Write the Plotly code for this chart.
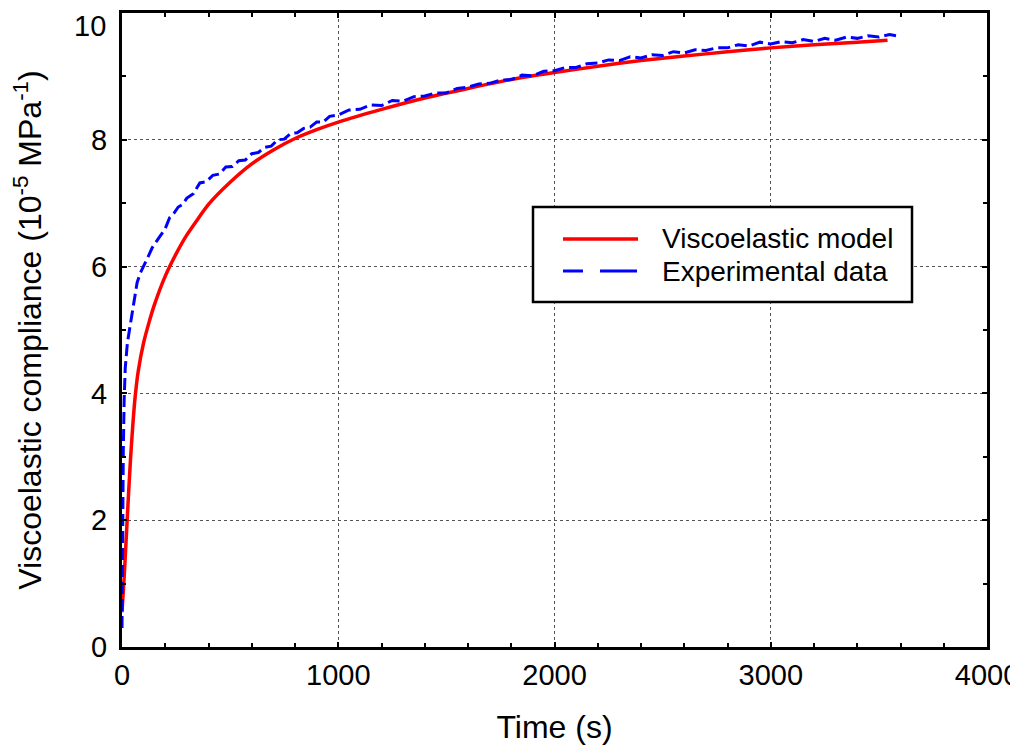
import plotly.graph_objects as go

# Viscoelastic model (red solid line)
model_t = [0, 10, 20, 30, 40, 50, 60, 75, 100, 125, 150, 200, 250, 300, 400, 500, 600, 700, 800,
           900, 1000, 1200, 1400, 1600, 1800, 2000, 2200, 2400, 2600, 2800, 3000, 3200, 3400, 3540]
model_j = [0.55, 1.1, 1.75, 2.4, 3.0, 3.5, 3.92, 4.35, 4.8, 5.12, 5.4, 5.85, 6.2, 6.5, 6.98, 7.33, 7.62, 7.84, 8.02,
           8.16, 8.28, 8.48, 8.66, 8.81, 8.95, 9.06, 9.16, 9.25, 9.32, 9.39, 9.45, 9.5, 9.54, 9.57]

# Experimental data (blue dashed line)
exp_t = [0, 3, 6, 10, 15, 25, 40, 55, 70, 85, 100, 120, 140, 160, 180, 200, 220, 240, 260, 280,
         300, 330, 360, 390, 420, 450, 480, 510, 540, 570, 600, 630, 660, 690, 720, 750, 780, 810,
         840, 870, 900, 930, 960, 1000, 1050, 1100, 1150, 1200, 1250, 1300, 1350, 1400, 1450, 1500,
         1550, 1600, 1650, 1700, 1750, 1800, 1850, 1900, 1950, 2000, 2050, 2100, 2150, 2200, 2250,
         2300, 2350, 2400, 2450, 2500, 2550, 2600, 2650, 2700, 2750, 2800, 2850, 2900, 2950, 3000,
         3050, 3100, 3150, 3200, 3250, 3300, 3350, 3400, 3450, 3500, 3550, 3600]
exp_j = [0.3, 2.0, 3.1, 3.9, 4.4, 4.8, 5.1, 5.45, 5.75, 5.9, 6.02, 6.15, 6.3, 6.4, 6.52, 6.6, 6.77, 6.84,
         6.94, 6.98, 7.08, 7.15, 7.32, 7.34, 7.44, 7.46, 7.57, 7.58, 7.67, 7.68, 7.78, 7.8, 7.88, 7.9,
         8.0, 8.01, 8.1, 8.11, 8.18, 8.2, 8.28, 8.28, 8.37, 8.39, 8.47, 8.48, 8.55, 8.54, 8.62, 8.61,
         8.68, 8.69, 8.74, 8.74, 8.81, 8.83, 8.88, 8.89, 8.94, 8.95, 9.02, 9.01, 9.08, 9.09, 9.14, 9.14,
         9.2, 9.21, 9.26, 9.25, 9.31, 9.29, 9.34, 9.33, 9.39, 9.37, 9.42, 9.41, 9.45, 9.45, 9.5, 9.48,
         9.54, 9.51, 9.55, 9.53, 9.58, 9.55, 9.6, 9.57, 9.62, 9.6, 9.64, 9.62, 9.66, 9.63]

series_names = ["Viscoelastic model", "Experimental data"]
series_colors = ["#ff0000", "#0000ff"]

x_ticks = [0, 1000, 2000, 3000, 4000]
y_ticks = [0, 2, 4, 6, 8, 10]

FONT = "Liberation Sans, Arial, sans-serif"
# The page body has an 8px margin, so the figure is placed at (8, 8) in the window.
OFF = 8
W, H = 1018 - OFF, 753 - 2 * OFF
ML, MT = 122 - OFF, 13 - OFF
MR = OFF + W - 987
MB = OFF + H - 647
PW, PH = W - ML - MR, H - MT - MB


def px(xp):
    """window pixel x -> paper coordinate"""
    return (xp - OFF - ML) / PW


def py(yp):
    """window pixel y -> paper coordinate"""
    return (H - MB - (yp - OFF)) / PH


fig = go.Figure()
fig.add_trace(go.Scatter(x=model_t, y=model_j, mode="lines", name=series_names[0], showlegend=False,
                         line=dict(color=series_colors[0], width=3.5, shape="spline", smoothing=0.5)))
fig.add_trace(go.Scatter(x=exp_t, y=exp_j, mode="lines", name=series_names[1], showlegend=False,
                         line=dict(color=series_colors[1], width=3, dash="12px,5px")))

axis_common = dict(
    showline=True, linecolor="black", linewidth=3, mirror="allticks",
    ticks="inside", ticklen=5, tickwidth=2, tickcolor="black",
    showgrid=True, gridcolor="#555555", gridwidth=1, griddash="3px,3px",
    zeroline=False, automargin=False, ticklabeloverflow="allow",
    tickfont=dict(family=FONT, size=29, color="black"),
)

fig.update_xaxes(range=[0, 4000], tickvals=x_ticks,
                 minor=dict(dtick=200, ticks="inside", ticklen=4, tickwidth=2, tickcolor="black", showgrid=False),
                 title=dict(text="Time (s)", font=dict(family=FONT, size=32, color="black"), standoff=27),
                 ticklabelstandoff=0, **axis_common)
# top label "10" is drawn as an annotation nudged down so it is not clipped by the page edge
fig.update_yaxes(range=[0, 10], tickvals=y_ticks,
                 ticktext=[str(v) if v != 10 else "" for v in y_ticks],
                 minor=dict(dtick=1, ticks="inside", ticklen=4, tickwidth=2, tickcolor="black", showgrid=False),
                 title=dict(text="Viscoelastic compliance (10<sup>-5</sup> MPa<sup>-1</sup>)",
                            font=dict(family=FONT, size=32, color="black"), standoff=58),
                 ticklabelstandoff=6, **axis_common)

# Legend drawn with shapes/annotations for exact placement
shapes = [
    dict(type="rect", xref="paper", yref="paper", x0=px(533), x1=px(912), y0=py(302), y1=py(207),
         line=dict(color="black", width=2.5), fillcolor="white", layer="above"),
    dict(type="line", xref="paper", yref="paper", x0=px(563), x1=px(638), y0=py(239), y1=py(239),
         line=dict(color=series_colors[0], width=3.5), layer="above"),
    dict(type="line", xref="paper", yref="paper", x0=px(563), x1=px(583), y0=py(271), y1=py(271),
         line=dict(color=series_colors[1], width=3), layer="above"),
    dict(type="line", xref="paper", yref="paper", x0=px(600), x1=px(637), y0=py(271), y1=py(271),
         line=dict(color=series_colors[1], width=3), layer="above"),
]
annotations = [
    dict(text=series_names[0], xref="paper", yref="paper", x=px(660), y=py(238), xanchor="left", yanchor="middle",
         showarrow=False, font=dict(family=FONT, size=28, color="black")),
    dict(text=series_names[1], xref="paper", yref="paper", x=px(660), y=py(271), xanchor="left", yanchor="middle",
         showarrow=False, font=dict(family=FONT, size=28, color="black")),
    dict(text=str(y_ticks[-1]), xref="paper", yref="y", x=px(108), y=y_ticks[-1], xanchor="right",
         yanchor="middle", yshift=-13, showarrow=False, font=dict(family=FONT, size=29, color="black")),
]

fig.update_layout(
    width=W, height=H,
    margin=dict(l=ML, r=MR, t=MT, b=MB, autoexpand=False),
    plot_bgcolor="white", paper_bgcolor="white",
    showlegend=False,
    shapes=shapes, annotations=annotations,
)

fig.write_html("out.html")
